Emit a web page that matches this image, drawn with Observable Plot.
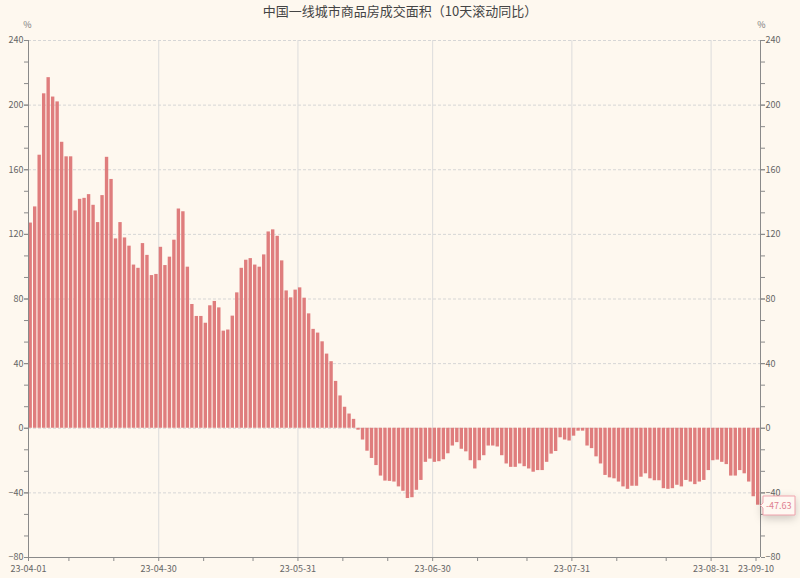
<!DOCTYPE html>
<html><head><meta charset="utf-8">
<script src="https://cdn.jsdelivr.net/npm/d3@7"></script>
<script src="https://cdn.jsdelivr.net/npm/@observablehq/plot@0.6"></script>
<style>
html,body{margin:0;padding:0;background:#fef8ef;}
body{font-family:"Noto Sans CJK SC","Noto Sans",sans-serif;width:800px;}
#title{height:14px;padding-top:3px;line-height:16px;text-align:center;font-size:13px;color:#444;overflow:visible;}
#chart svg{display:block;}
</style></head><body>
<div id="title">中国一线城市商品房成交面积（10天滚动同比）</div>
<div id="chart"></div>
<script>
const startDate = "2023-04-01";
const endDate = "2023-09-11";
const values = [
  127, 137, 169, 207, 217, 205, 202, 177, 168, 168,
  134.5, 141.7, 142.3, 144.6, 138, 127.3, 144, 167.7, 154, 117.2,
  127.3, 117.8, 112.7, 101, 99, 114.3, 107, 94.5, 95.2, 112,
  100.7, 105.9, 116.4, 135.7, 134, 99.7, 76.6, 69.2, 69.2, 65,
  75.8, 78.5, 74.5, 60.1, 60.8, 69.4, 83.8, 99, 104, 105,
  101, 99.7, 107.3, 121.5, 122.8, 118.8, 103.6, 85, 80.7, 85.5,
  86.9, 80.5, 70.8, 61.2, 58.9, 53.5, 45.9, 41.2, 29, 20,
  13, 8.8, 5.5, -1.2, -7.3, -14.2, -18.7, -23.1, -29.6, -32.7,
  -32.9, -33.3, -36.3, -39, -43.5, -43, -38.4, -32.3, -21.1, -19.1,
  -21.1, -20.7, -19.5, -15.8, -11, -8.9, -13, -14.6, -20.1, -25.2,
  -20.1, -17, -11, -11, -11.6, -17, -22.1, -24.2, -24.2, -22.1,
  -23.8, -25.2, -27.2, -26.2, -26.2, -21.1, -16, -14.4, -5.9, -7.3,
  -7.9, -4.9, -1.8, -1.8, -11, -12.6, -17.7, -22.1, -29.2, -30.7,
  -31.3, -33.3, -36.3, -37.8, -35.9, -35.9, -30.3, -28.2, -31.3, -32.5,
  -32.5, -37.4, -37.8, -37.4, -35.3, -36.3, -32.3, -33.3, -34.9, -33.3,
  -32.3, -26.2, -20.1, -19.7, -21.1, -22.5, -29.6, -29.6, -26.2, -28.2,
  -33.3, -42.4, -47.63
];
const xTickLabels = ["2023-04-01","2023-04-30","2023-05-31","2023-06-30","2023-07-31","2023-08-31","2023-09-10"];
const xGridDates = ["2023-04-30","2023-05-31","2023-06-30","2023-07-31","2023-08-31"];
const xMinorTicks = ["2023-04-10","2023-04-20","2023-05-10","2023-05-21","2023-06-10","2023-06-20","2023-07-10","2023-07-21","2023-08-10","2023-08-21"];
const yTickLabels = [-80,-40,0,40,80,120,160,200,240];
const yGridValues = [-40,0,40,80,120,160,200,240];
const unitLabel = "%";
const lastLabel = "-47.63";

const start = new Date(startDate);
const end = new Date(endDate);
const data = values.map((v, i) => {
  const d = d3.utcDay.offset(start, i);
  return {date: d, next: d3.utcDay.offset(d, 1), value: v};
});
const last = data[data.length - 1];
const toDate = s => new Date(s);
const yMinor = d3.range(-80, 240.01, 40/3);
const fmt = d3.utcFormat("%y-%m-%d");
const axisColor = "#8a8a8a";
const textColor = "#666";

const chart = Plot.plot({
  width: 800,
  height: 561,
  marginTop: 23,
  marginBottom: 21,
  marginLeft: 28,
  marginRight: 40,
  style: {background: "#fef8ef", fontFamily: "'Noto Sans CJK SC','Noto Sans',sans-serif", fontSize: "9px", color: textColor},
  x: {type: "utc", domain: [start, end]},
  y: {domain: [-80, 240]},
  marks: [
    Plot.gridY(yGridValues, {stroke: "#d6d6d6", strokeOpacity: 1, strokeDasharray: "3,2"}),
    Plot.gridX(xGridDates.map(toDate), {stroke: "#dcdcdc", strokeOpacity: 1}),
    Plot.rectY(data, {x1: "date", x2: "next", y: "value", fill: "#df7d7d", insetLeft: 0.5, insetRight: 0.6}),
    Plot.ruleX([start, end], {stroke: axisColor}),
    Plot.ruleY([-80], {stroke: axisColor}),
    Plot.axisY(yMinor, {anchor: "left", tickSize: 4, tickFormat: () => "", label: null, stroke: axisColor}),
    Plot.axisY(yTickLabels, {anchor: "left", tickSize: 4, tickPadding: 1, label: null, stroke: axisColor, fill: textColor}),
    Plot.axisY(yMinor, {anchor: "right", tickSize: 4, tickFormat: () => "", label: null, stroke: axisColor}),
    Plot.axisY(yTickLabels, {anchor: "right", tickSize: 4, tickPadding: 1, label: null, stroke: axisColor, fill: textColor}),
    Plot.axisX(xMinorTicks.map(toDate), {anchor: "bottom", tickSize: 4, tickFormat: () => "", label: null, stroke: axisColor}),
    Plot.axisX(xTickLabels.map(toDate), {anchor: "bottom", tickSize: 4, tickPadding: 4, tickFormat: fmt, label: null, stroke: axisColor, fill: textColor}),
    Plot.text([unitLabel], {frameAnchor: "top-left", textAnchor: "middle", dx: -1, dy: -19, fill: "#777", fontSize: 9}),
    Plot.text([unitLabel], {frameAnchor: "top-right", textAnchor: "middle", dx: 1, dy: -19, fill: "#777", fontSize: 9}),
    Plot.tip([last], {x: "next", y: "value", title: () => lastLabel, anchor: "left", pointerSize: 5,
      fill: "#fff8f2", stroke: "#f0a3ad", fontSize: 9, textPadding: 3})
  ]
});
d3.select(chart).selectAll('g[aria-label="tip"] text, g[aria-label="tip"] tspan').attr("fill", "#e0808f");
d3.select(chart).selectAll('g[aria-label="y-axis tick label"] text, g[aria-label="x-axis tick label"] text')
  .filter(function() { return this.textContent.trim() === ""; }).remove();
document.getElementById("chart").appendChild(chart);
</script>
</body></html>
